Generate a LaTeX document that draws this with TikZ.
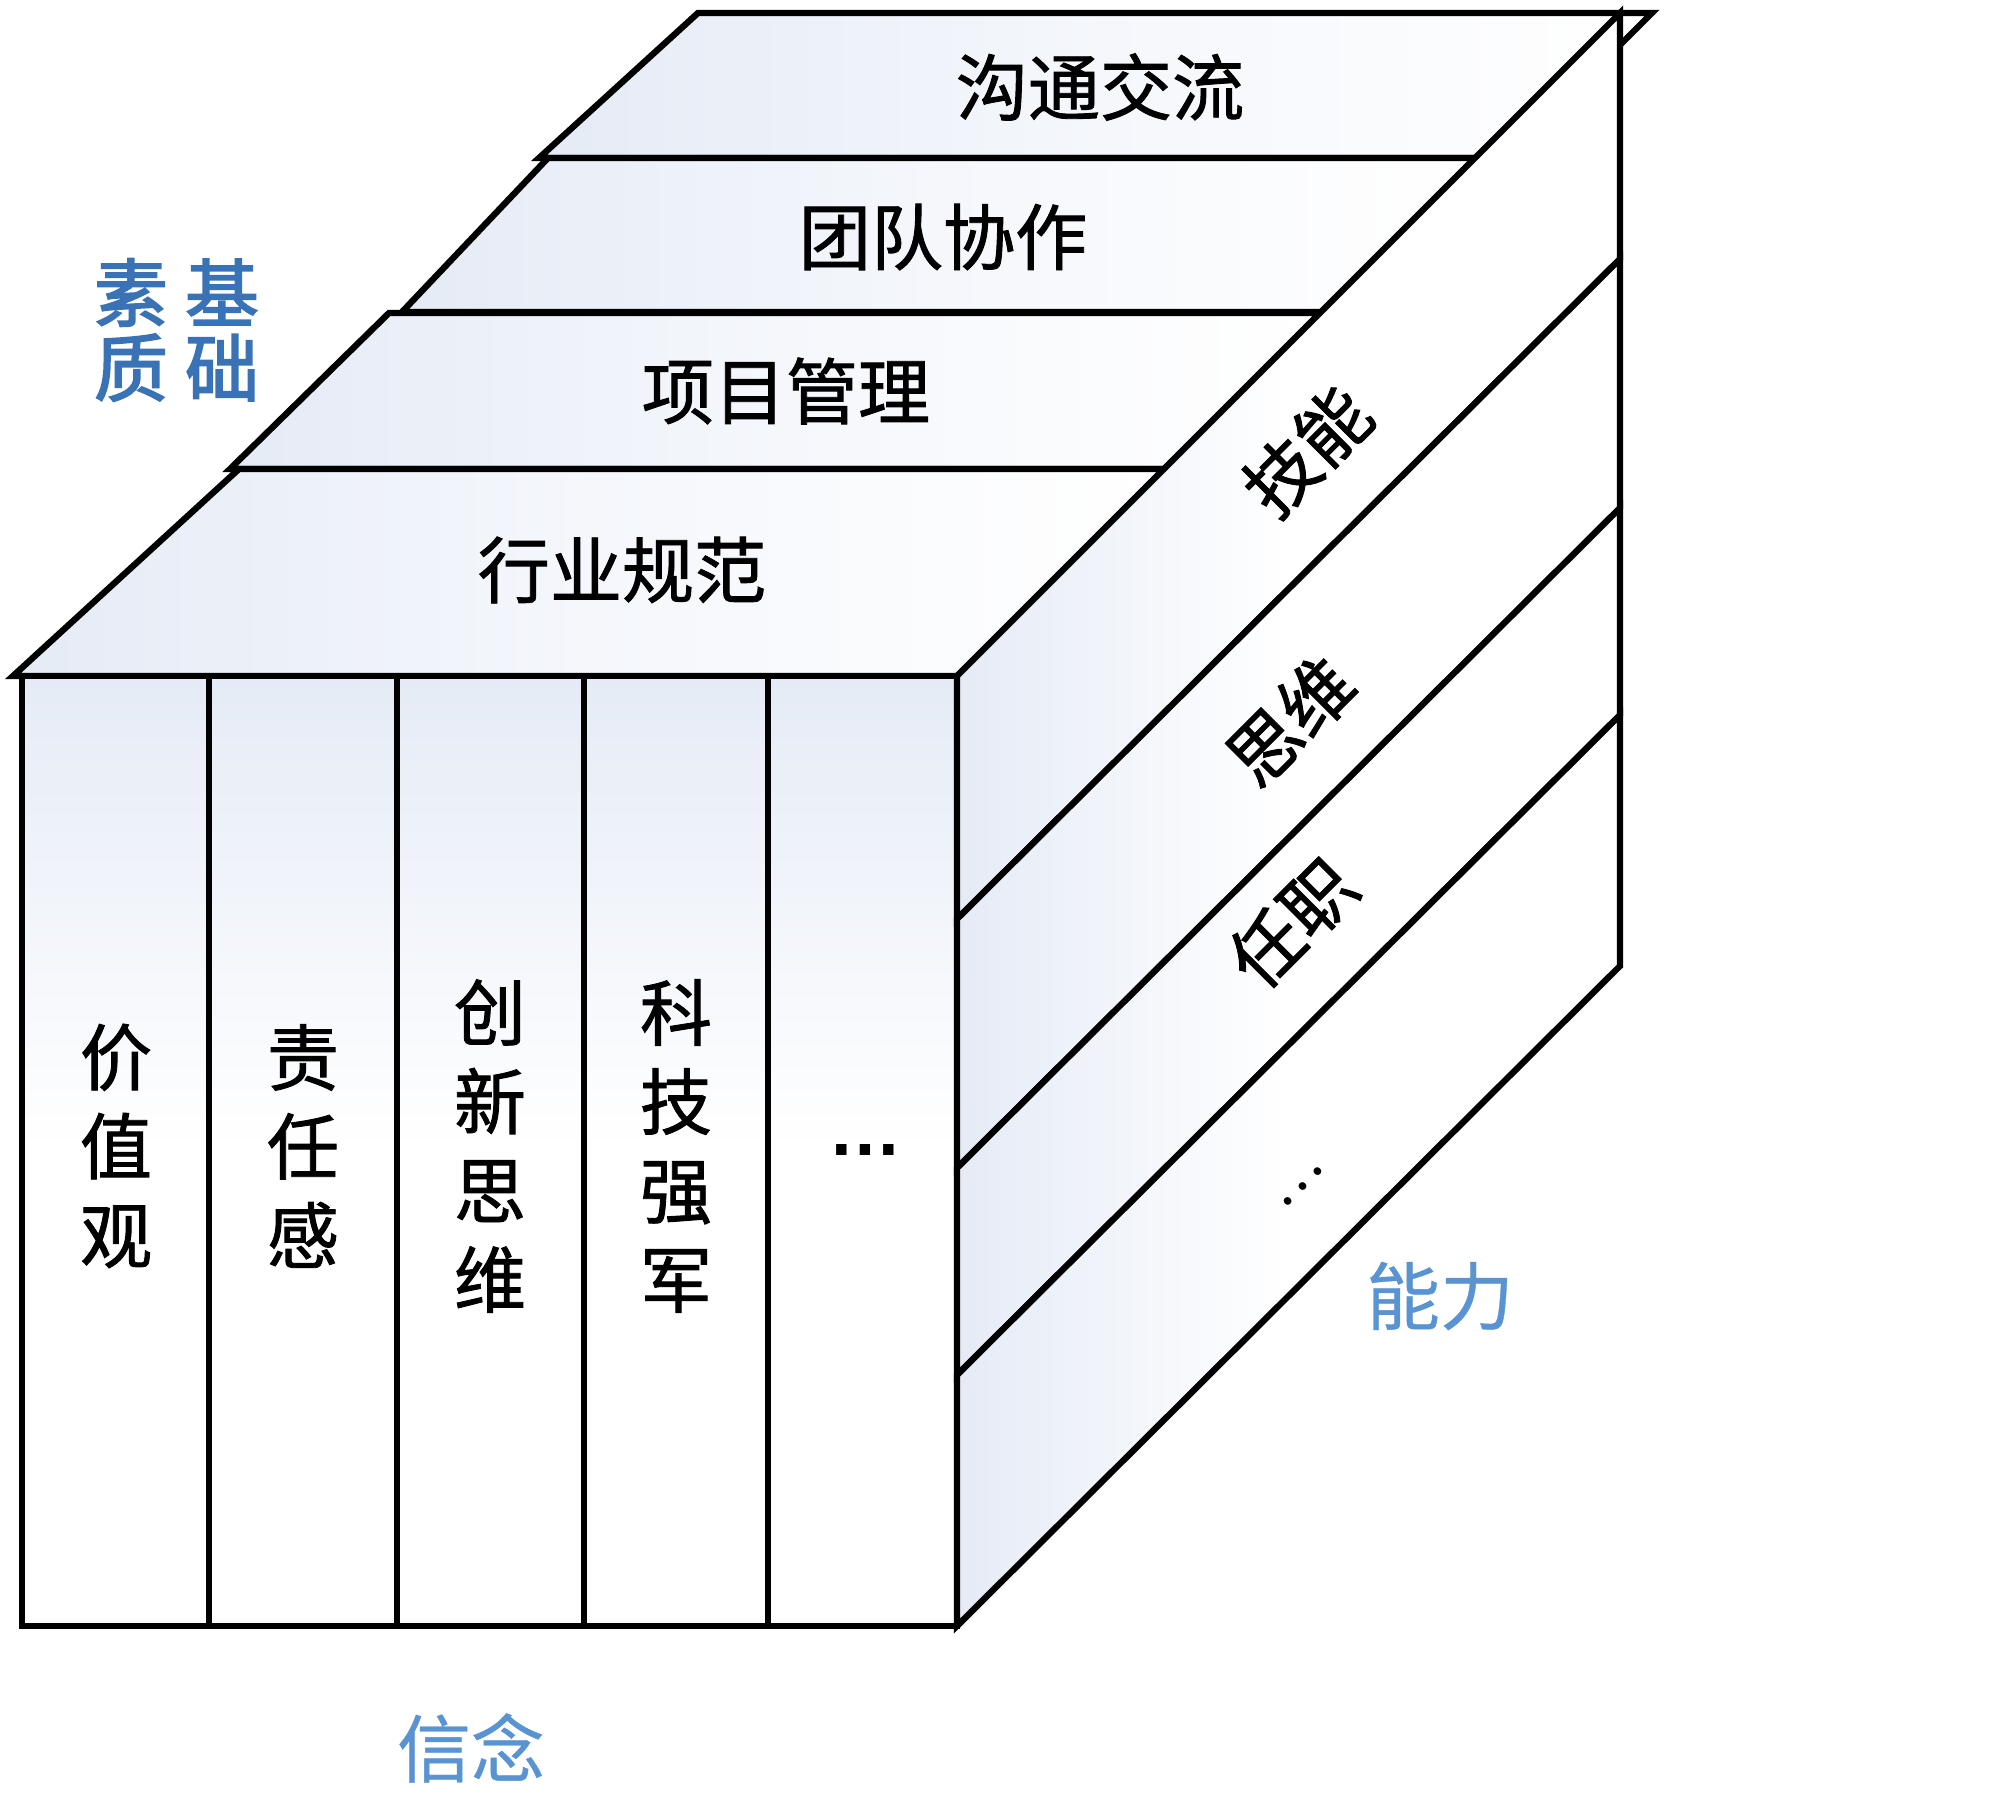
\documentclass[tikz,border=0pt]{standalone}
\usepackage{fontspec}
\newfontfamily\cjk{Noto Sans CJK SC}[FakeBold=1.2]
\newfontfamily\cjkheavy{Noto Sans CJK SC}[FakeBold=2.4]
\newfontfamily\cjkmid{Noto Sans CJK SC}[FakeBold=0.5]
\newfontfamily\cjkthin{Noto Sans CJK SC}
\newfontfamily\dotfont{Liberation Sans}
\usepackage{tikz}
\definecolor{faceblue}{RGB}{229,235,246}
\definecolor{deepblue}{RGB}{58,115,181}
\definecolor{paleblue}{RGB}{90,147,210}

\begin{document}
\begin{tikzpicture}[x=0.01cm,y=-0.01cm,
  edge/.style={draw=black,line width=1.8pt,line join=miter},
  slab/.style={edge,left color=faceblue,right color=white,middle color=white!60!faceblue},
  band/.style={edge,left color=faceblue,right color=white,middle color=white},
  column/.style={edge,top color=faceblue,bottom color=white,middle color=white},
  word/.style={font=\cjk\fontsize{20.5}{25.3}\selectfont,align=center,inner sep=0pt},
  tag/.style={font=\cjkmid\fontsize{21}{21.3}\selectfont,text=#1,align=center,inner sep=0pt}
]
\useasboundingbox (0,0) rectangle (2000,1801);

\path[slab] (539,158) -- (698,13) -- (1652,13) -- (1507,158) -- cycle;
\path[slab] (402,312) -- (548,158) -- (1475,158) -- (1321,312) -- cycle;
\path[slab] (230,469) -- (389,313) -- (1320,313) -- (1164,469) -- cycle;
\path[slab] (13,676) -- (239,469) -- (1164,469) -- (957,676) -- cycle;

\foreach \xa/\xb in {22/209,209/397,397/584,584/768,768/957}
  \path[column] (\xa,676) rectangle (\xb,1626);

\foreach \ya/\yb/\yc/\yd in {676/13/259/919,919/259/508/1168,1168/508/715/1375,1375/715/966/1626}
  \path[band] (957,\ya) -- (1620,\yb) -- (1620,\yc) -- (957,\yd) -- cycle;

\node[word] (talk)  at (1100,87)  {沟通交流};
\node[word] (team)  at (943,237)  {团队协作};
\node[word] (proj)  at (786,391)  {项目管理};
\node[word] (norm)  at (622,570)  {行业规范};

\node[word] (value) at (116,1146) {价\\值\\观};
\node[word] (duty)  at (303,1146) {责\\任\\感};
\node[word] (inno)  at (490,1146) {创\\新\\思\\维};
\node[word] (tech)  at (676,1146) {科\\技\\强\\军};
\node[word,font=\dotfont\bfseries\fontsize{21}{21}\selectfont] (more) at (865,1150) {…};

\node[word,rotate=45] (skill) at (1307,451)  {技能};
\node[word,rotate=45] (mind)  at (1290,721)  {思维};
\node[word,rotate=45] (post)  at (1292,923)  {任职};
\node[word,rotate=45,font=\cjkthin\fontsize{16}{16}\selectfont] (etc) at (1302,1187) {…};

\node[tag=deepblue,font=\cjkheavy\fontsize{21}{21.3}\selectfont] (suzhi) at (131,330) {素\\质};
\node[tag=deepblue,font=\cjkheavy\fontsize{21}{21.3}\selectfont] (jichu) at (222,330) {基\\础};
\node[tag=paleblue] (ability) at (1440,1296) {能力};
\node[tag=paleblue] (belief)  at (471,1748)  {信念};
\end{tikzpicture}
\end{document}
